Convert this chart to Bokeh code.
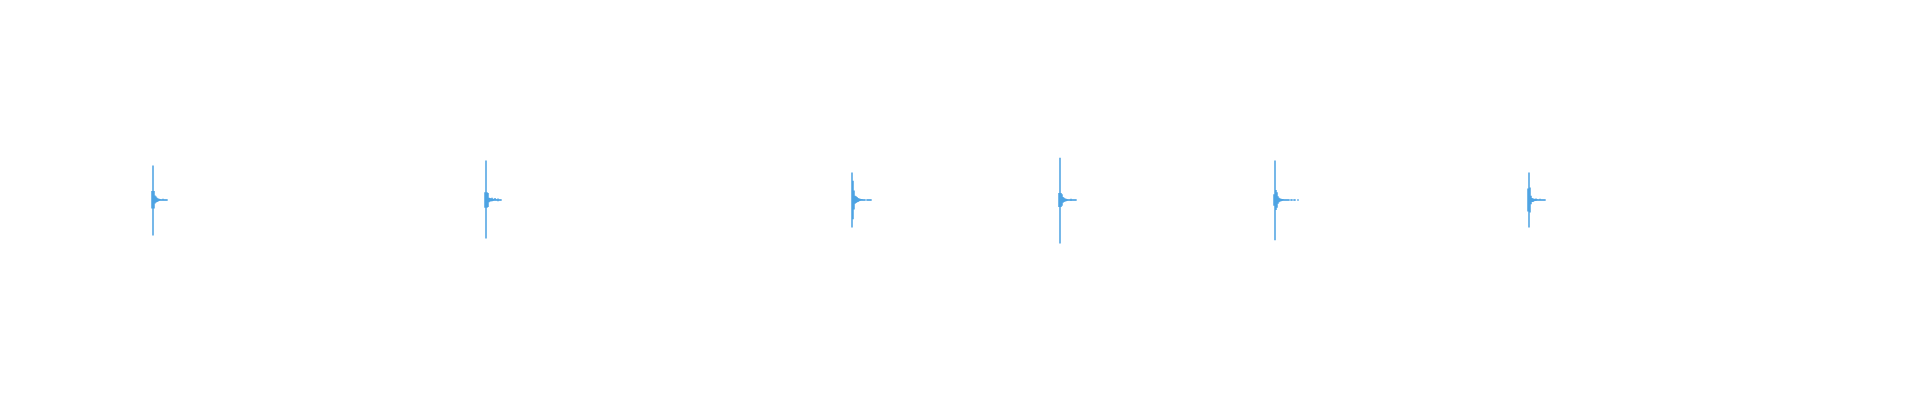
from bokeh.plotting import figure
from bokeh.models import ColumnDataSource, Range1d
from bokeh.embed import file_html
from bokeh.resources import INLINE

# onset of each burst (time index) and the first offset of its envelope
onsets = [152, 485, 851, 1059, 1274, 1528]
start_offsets = [-1, -1, 0, -1, -1, -1]

# per-column upper / lower envelope of the signal after each onset
upper_1 = [0.047, 0.180, 0.047, 0.024, 0.018, 0.012, 0.008, 0.006, 0.005, 0.004, 0.004, 0.006, 0.004, 0.004, 0.004, 0.004]
lower_1 = [-0.044, -0.185, -0.044, -0.018, -0.013, -0.010, -0.008, -0.005, -0.004, -0.004, -0.004, -0.004, -0.004, -0.004, -0.004, -0.004]

upper_2 = [0.040, 0.206, 0.040, 0.036, 0.012, 0.010, 0.008, 0.012, 0.006, 0.005, 0.010, 0.005, 0.004, 0.008, 0.004, 0.004, 0.004]
lower_2 = [-0.040, -0.200, -0.040, -0.036, -0.012, -0.008, -0.006, -0.006, -0.005, -0.004, -0.004, -0.004, -0.004, -0.006, -0.004, -0.004, -0.004]

upper_3 = [0.143, 0.100, 0.050, 0.022, 0.020, 0.015, 0.010, 0.008, 0.006, 0.005, 0.005, 0.004, 0.004, 0.004, 0.000, 0.004, 0.004, 0.004, 0.004, 0.004]
lower_3 = [-0.143, -0.100, -0.050, -0.020, -0.016, -0.012, -0.010, -0.006, -0.005, -0.004, -0.004, -0.004, -0.004, -0.004, 0.000, -0.004, -0.004, -0.004, -0.004, -0.004]

upper_4 = [0.036, 0.220, 0.036, 0.030, 0.016, 0.012, 0.008, 0.006, 0.005, 0.004, 0.004, 0.004, 0.006, 0.004, 0.004, 0.004, 0.004, 0.004]
lower_4 = [-0.036, -0.227, -0.036, -0.030, -0.014, -0.010, -0.008, -0.006, -0.005, -0.004, -0.004, -0.004, -0.005, -0.004, -0.004, -0.004, -0.004, -0.004]

upper_5 = [0.030, 0.206, 0.052, 0.040, 0.020, 0.012, 0.008, 0.006, 0.005, 0.005, 0.004, 0.004, 0.004, 0.004, 0.004, 0.004, 0.000, 0.004, 0.004, 0.000, 0.004, 0.004, 0.000, 0.000, 0.004]
lower_5 = [-0.030, -0.210, -0.052, -0.040, -0.020, -0.012, -0.008, -0.006, -0.005, -0.004, -0.004, -0.004, -0.004, -0.004, -0.004, -0.004, 0.000, -0.004, -0.004, 0.000, -0.004, -0.004, 0.000, 0.000, -0.004]

upper_6 = [0.060, 0.143, 0.065, 0.022, 0.010, 0.008, 0.006, 0.005, 0.008, 0.005, 0.004, 0.004, 0.006, 0.004, 0.004, 0.004, 0.004, 0.004]
lower_6 = [-0.060, -0.143, -0.065, -0.022, -0.010, -0.010, -0.006, -0.005, -0.005, -0.004, -0.004, -0.004, -0.004, -0.004, -0.004, -0.004, -0.004, -0.004]

uppers = [upper_1, upper_2, upper_3, upper_4, upper_5, upper_6]
lowers = [lower_1, lower_2, lower_3, lower_4, lower_5, lower_6]

xs, y0s, y1s = [], [], []
for onset, off0, up, lo in zip(onsets, start_offsets, uppers, lowers):
    for i, (u, l) in enumerate(zip(up, lo)):
        if u == 0 and l == 0:
            continue
        xs.append(onset + off0 + i + 0.5)
        y0s.append(l)
        y1s.append(u)

src = ColumnDataSource(dict(x=xs, y0=y0s, y1=y1s))

p = figure(width=1904, height=384, output_backend="svg", toolbar_location=None,
           x_range=Range1d(0, 1904), y_range=Range1d(-0.961, 1.039), min_border=0,
           background_fill_color="white", border_fill_color="white")
p.axis.visible = False
p.grid.visible = False
p.outline_line_color = None

p.segment(x0="x", y0="y0", x1="x", y1="y1", source=src,
          line_color="#3d9ae0", line_width=1.4, line_cap="butt")

open("out.html", "w").write(file_html(p, INLINE))
